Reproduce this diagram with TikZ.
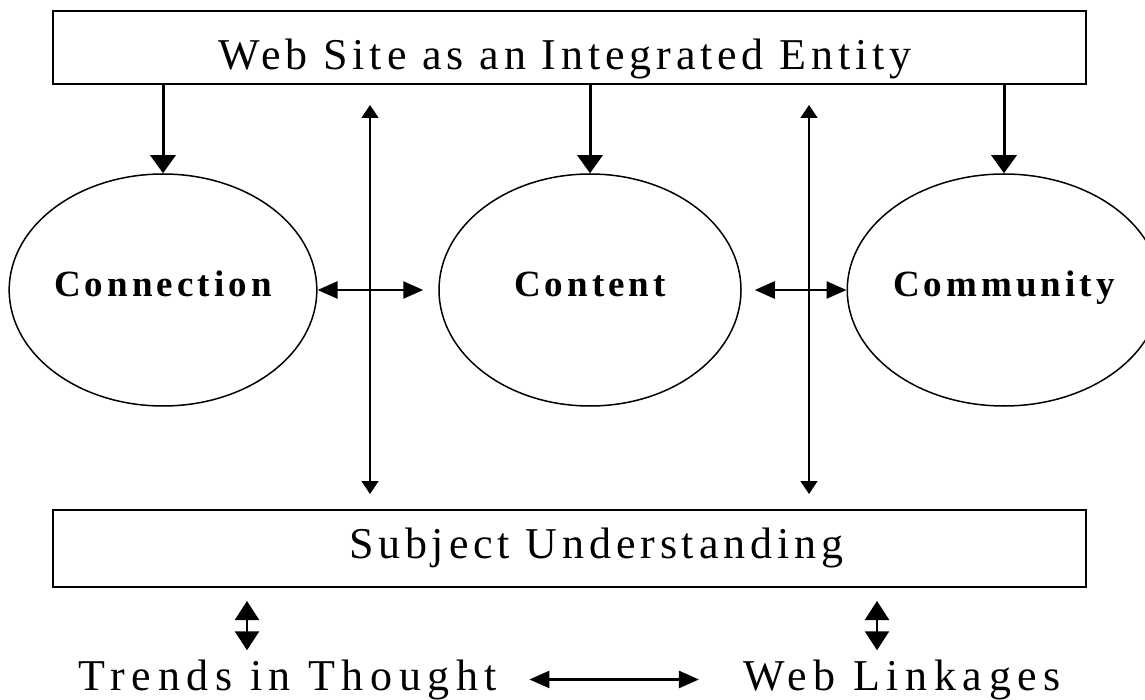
\documentclass[tikz,border=0pt]{standalone}
\usepackage{fontspec}
\setmainfont{Liberation Serif}
\newfontfamily\spacedfont[LetterSpace=11]{Liberation Serif}
\newfontfamily\widefont[LetterSpace=15]{Liberation Serif}
\newfontfamily\spacedbold[LetterSpace=11]{Liberation Serif}
\usetikzlibrary{shapes.geometric,arrows.meta}

\begin{document}
\begin{tikzpicture}[x=1pt,y=-1pt,
  frame/.style={draw,line width=2pt,minimum width=1033pt,inner sep=0pt},
  oval/.style={ellipse,draw,line width=1.5pt,minimum width=302pt,minimum height=232pt,inner sep=0pt,
    font=\spacedbold\bfseries\fontsize{37}{42}\selectfont,text height=24pt,text depth=10pt},
  caption/.style={anchor=base,inner sep=0pt,font=\spacedfont\fontsize{44}{50}\selectfont},
  feed/.style={-{Triangle[length=18pt,width=25pt]},line width=3pt},
  link/.style={{Triangle[length=13pt,width=17pt]}-{Triangle[length=13pt,width=17pt]},line width=1.5pt},
  pair/.style={{Triangle[length=20pt,width=17pt]}-{Triangle[length=20pt,width=17pt]},line width=2.5pt},
  short/.style={{Triangle[length=19pt,width=24pt]}-{Triangle[length=19pt,width=24pt]},line width=2.5pt}]
\useasboundingbox (0,0) rectangle (1145,700);
\clip (0,0) rectangle (1145,700);
\node[frame,minimum height=73pt] (site) at (569.5,47.5) {};
\node[caption] (title) at (565,70) {Web Site as an Integrated Entity};
\node[oval] (conn) at (163,290) {Connection};
\node[oval] (cont) at (590,290) {Content};
\node[oval] (comm) at (1004,290) {Community};
\node[frame,minimum height=77pt] (subj) at (569.5,548.5) {};
\node[caption] (subjtext) at (596,558) {Subject Understanding};
\node[caption,font=\widefont\fontsize{44}{50}\selectfont] (trends) at (288,690) {Trends in Thought};
\node[caption,font=\widefont\fontsize{44}{50}\selectfont] (links) at (902,690) {Web Linkages};
\coordinate (v1) at (370,0);
\coordinate (v2) at (809,0);
\coordinate (s1) at (247,0);
\coordinate (s2) at (877,0);
% top box to the three circles
\draw[feed] (site.south -| conn.north) -- (conn.north);
\draw[feed] (site.south -| cont.north) -- (cont.north);
\draw[feed] (site.south -| comm.north) -- (comm.north);
% long two-way lines
\draw[link] ([yshift=-20pt]site.south -| v1) -- ([yshift=15pt]subj.north -| v1);
\draw[link] ([yshift=-20pt]site.south -| v2) -- ([yshift=15pt]subj.north -| v2);
% between the circles
\draw[pair] (conn.east) -- ([xshift=-15pt]cont.west);
\draw[pair] ([xshift=13pt]cont.east) -- (comm.west);
% bottom row
\draw[short] ([yshift=-13pt]subj.south -| s1) -- ([yshift=9pt]trends.north -| s1);
\draw[short] ([yshift=-13pt]subj.south -| s2) -- ([yshift=9pt]links.north -| s2);
\draw[pair] ([xshift=32pt]trends.east) -- ([xshift=-44pt]links.west);
\end{tikzpicture}
\end{document}
